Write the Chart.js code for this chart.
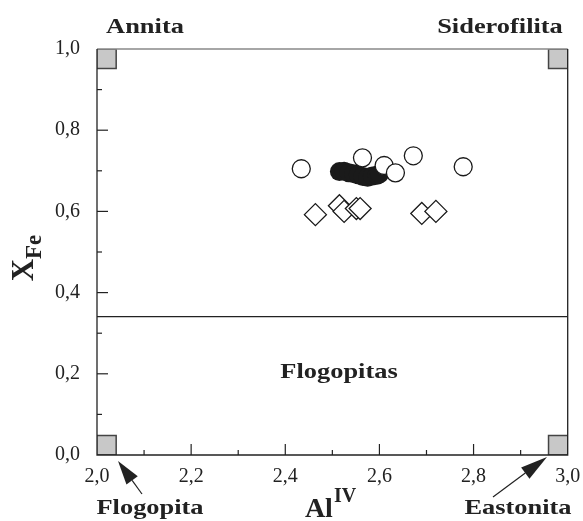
<!DOCTYPE html>
<html>
<head>
<meta charset="utf-8">
<script src="https://cdn.jsdelivr.net/npm/chart.js@4"></script>
<style>
  body { margin: 0; background: #fff; }
  canvas { display: block; }
</style>
</head>
<body>
<canvas id="myChart" width="583" height="521"></canvas>
<script>
// open circles
var openX = [2.434, 2.564, 2.610, 2.634, 2.672, 2.778];
var openY = [0.705, 0.732, 0.713, 0.695, 0.737, 0.710];
// filled circles (cluster)
var filledX = [2.515, 2.525, 2.535, 2.545, 2.555, 2.565, 2.575, 2.585, 2.595, 2.600];
var filledY = [0.698, 0.699, 0.695, 0.693, 0.690, 0.686, 0.684, 0.687, 0.689, 0.692];
// diamonds
var diamX = [2.464, 2.515, 2.525, 2.551, 2.559, 2.690, 2.720];
var diamY = [0.592, 0.614, 0.600, 0.607, 0.607, 0.595, 0.600];
// end members (corner squares)
var endX = [2.02, 2.98, 2.02, 2.98];
var endY = [0.976, 0.976, 0.024, 0.024];
// Flogopitas / biotite boundary
var limitX = [2.0, 3.0];
var limitY = [0.341, 0.341];

function pts(xs, ys) {
    var out = [];
    for (var i = 0; i < xs.length; i++) out.push({x: xs[i], y: ys[i]});
    return out;
}

function fmt(v) {
    if (Math.round(v * 10) % 2 !== 0) return '';
    return v.toFixed(1).replace('.', ',');
}

var serif = 'Liberation Serif';

var decor = {
    id: 'decor',
    afterDraw: function(chart) {
        var c = chart.ctx;
        var a = chart.chartArea;
        var xs = chart.scales.x, ys = chart.scales.y;
        c.save();
        // frame
        c.lineWidth = 1.5;
        c.strokeStyle = '#888';
        c.beginPath(); c.moveTo(a.left, a.top); c.lineTo(a.right, a.top); c.stroke();
        c.strokeStyle = '#222';
        c.lineWidth = 1.3;
        c.beginPath();
        c.moveTo(a.left, a.top); c.lineTo(a.left, a.bottom); c.lineTo(a.right, a.bottom); c.lineTo(a.right, a.top);
        c.stroke();
        // inward ticks
        c.lineWidth = 1.2;
        xs.ticks.forEach(function(t) {
            var p = xs.getPixelForValue(t.value);
            if (p <= a.left + 1 || p >= a.right - 1) return;
            var len = Math.round(t.value * 10) % 2 === 0 ? 11 : 5;
            c.beginPath(); c.moveTo(p, a.bottom); c.lineTo(p, a.bottom - len); c.stroke();
        });
        ys.ticks.forEach(function(t) {
            var p = ys.getPixelForValue(t.value);
            if (p <= a.top + 1 || p >= a.bottom - 1) return;
            var len = Math.round(t.value * 10) % 2 === 0 ? 11 : 5;
            c.beginPath(); c.moveTo(a.left, p); c.lineTo(a.left + len, p); c.stroke();
        });

        // labels (slightly wide bold serif)
        c.fillStyle = '#222';
        c.textBaseline = 'alphabetic';
        c.textAlign = 'center';
        function wide(txt, x, y) {
            c.save();
            c.translate(x, y);
            c.scale(1.2, 1);
            c.font = 'bold 22px ' + serif;
            c.fillText(txt, 0, 0);
            c.restore();
        }
        wide('Annita', 145, 33);
        wide('Siderofilita', 500, 33);
        wide('Flogopitas', 339, 378);
        wide('Flogopita', 150, 514);
        wide('Eastonita', 518, 514);

        // arrows
        function arrow(x1, y1, x2, y2, hl, hw) {
            var ang = Math.atan2(y2 - y1, x2 - x1);
            var bx = x2 - hl * Math.cos(ang), by = y2 - hl * Math.sin(ang);
            c.lineWidth = 1.2;
            c.beginPath(); c.moveTo(x1, y1); c.lineTo(bx, by); c.stroke();
            c.beginPath();
            c.moveTo(x2, y2);
            c.lineTo(bx + hw * Math.sin(ang), by - hw * Math.cos(ang));
            c.lineTo(bx - hw * Math.sin(ang), by + hw * Math.cos(ang));
            c.closePath(); c.fill();
        }
        arrow(142, 494, 118, 461, 24, 7);
        arrow(493, 497, 547, 457, 27, 7);

        // axis titles
        c.textAlign = 'left';
        c.font = 'bold 28px ' + serif;
        var wAl = c.measureText('Al').width;
        c.font = 'bold 20px ' + serif;
        var wIV = c.measureText('IV').width;
        var x0 = 330 - (wAl + wIV) / 2;
        c.font = 'bold 28px ' + serif;
        c.fillText('Al', x0, 517);
        c.font = 'bold 20px ' + serif;
        c.fillText('IV', x0 + wAl + 1, 502);

        c.save();
        c.translate(33, 258);
        c.rotate(-Math.PI / 2);
        c.font = 'bold 31px ' + serif;
        var wX = c.measureText('X').width;
        c.font = 'bold 23px ' + serif;
        var wFe = c.measureText('Fe').width;
        var s = -(wX + wFe) / 2;
        c.font = 'bold 31px ' + serif;
        c.fillText('X', s, 0);
        c.font = 'bold 23px ' + serif;
        c.fillText('Fe', s + wX, 8);
        c.restore();

        c.restore();
    }
};

var ctx = document.getElementById('myChart');
var myChart = new Chart(ctx, {
    type: 'scatter',
    data: {
        datasets: [
        {
            label: 'abiertos',
            data: pts(openX, openY),
            pointStyle: 'circle',
            pointRadius: 9,
            borderWidth: 1.3,
            borderColor: '#1a1a1a',
            backgroundColor: '#ffffff'
        },
        {
            label: 'rellenos',
            data: pts(filledX, filledY),
            pointStyle: 'circle',
            pointRadius: 9.5,
            borderWidth: 0,
            borderColor: '#1a1a1a',
            backgroundColor: '#1a1a1a'
        },
        {
            label: 'rombos',
            data: pts(diamX, diamY),
            pointStyle: 'rectRot',
            pointRadius: 11,
            borderWidth: 1.3,
            borderColor: '#1a1a1a',
            backgroundColor: '#ffffff'
        },
        {
            label: 'extremos',
            data: pts(endX, endY),
            pointStyle: 'rect',
            pointRadius: 13.8,
            borderWidth: 1.5,
            borderColor: '#444',
            backgroundColor: '#c8c8c8'
        },
        {
            label: 'limite',
            type: 'line',
            data: pts(limitX, limitY),
            borderColor: '#222',
            borderWidth: 1.2,
            pointRadius: 0,
            fill: false
        }]
    },
    plugins: [decor],
    options: {
        responsive: false,
        animation: false,
        events: [],
        layout: { padding: { top: 49, right: 14, left: 0, bottom: 0 } },
        plugins: { legend: { display: false }, tooltip: { enabled: false } },
        scales: {
            x: {
                type: 'linear',
                min: 2, max: 3,
                grid: { display: false, drawTicks: false },
                border: { display: false },
                afterFit: function(s) {
                    s.height = 66;
                    s.paddingLeft = 0;
                    s.paddingRight = 0;
                },
                ticks: {
                    stepSize: 0.1,
                    autoSkip: false,
                    maxRotation: 0,
                    padding: 10,
                    color: '#222',
                    font: { family: serif, size: 20 },
                    callback: fmt
                }
            },
            y: {
                type: 'linear',
                min: 0, max: 1,
                grid: { display: false, drawTicks: false },
                border: { display: false },
                afterFit: function(s) {
                    s.width = 97;
                    s.paddingTop = 0;
                    s.paddingBottom = 0;
                },
                ticks: {
                    stepSize: 0.1,
                    autoSkip: false,
                    padding: 17,
                    color: '#222',
                    font: { family: serif, size: 20 },
                    callback: fmt
                }
            }
        }
    }
});
</script>
</body>
</html>
